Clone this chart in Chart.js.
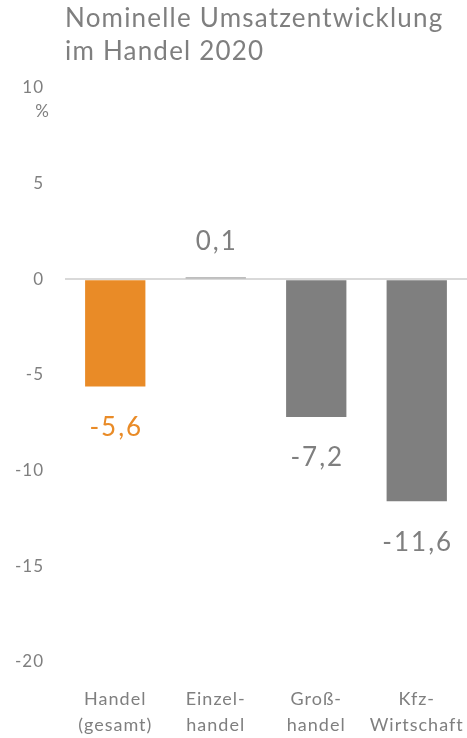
<!DOCTYPE html>
<html>
<head>
<meta charset="utf-8">
<script src="https://cdn.jsdelivr.net/npm/chart.js@4"></script>
<style>
  html, body { margin: 0; padding: 0; background: #fff; }
  #wrap { width: 467px; height: 738px; position: relative; }
</style>
</head>
<body>
<div id="wrap"><canvas id="chart"></canvas></div>
<script>
var titleLines = ['Nominelle Umsatzentwicklung', 'im Handel 2020'];
var categories = [['Handel', '(gesamt)'], ['Einzel-', 'handel'], ['Groß-', 'handel'], ['Kfz-', 'Wirtschaft']];
var values = [-5.6, 0.1, -7.2, -11.6];
var valueLabels = ['-5,6', '0,1', '-7,2', '-11,6'];
var unitLabel = '%';

var grey = '#7f7f7f';
var orange = '#e98b27';
var barColors = [orange, grey, grey, grey];

// title, unit and value labels drawn by hand
var extras = {
    id: 'extras',
    beforeDraw: function (chart) {
        // the reference text is set a little loose
        chart.ctx.letterSpacing = '1px';
    },
    afterDraw: function (chart) {
        var ctx = chart.ctx;
        var area = chart.chartArea;
        var y = chart.scales.y;
        ctx.save();
        ctx.fillStyle = grey;
        ctx.textAlign = 'left';
        ctx.textBaseline = 'alphabetic';
        ctx.letterSpacing = '1.2px';
        ctx.font = '26px Lato';
        titleLines.forEach(function (t, i) {
            ctx.fillText(t, area.left, 27 + i * 33);
        });

        ctx.letterSpacing = '0px';
        ctx.font = '17px Lato';
        ctx.textAlign = 'center';
        ctx.textBaseline = 'middle';
        ctx.fillText(unitLabel, 42, y.getPixelForValue(10) + 24);

        ctx.letterSpacing = '2px';
        ctx.font = '26px Lato';
        var meta = chart.getDatasetMeta(0);
        meta.data.forEach(function (bar, i) {
            ctx.fillStyle = barColors[i];
            var ly = values[i] < 0 ? bar.y + 41 : bar.y - 36;
            ctx.fillText(valueLabels[i], bar.x + 1, ly);
        });
        ctx.restore();
    }
};

new Chart(document.getElementById('chart'), {
    type: 'bar',
    data: {
        labels: categories,
        datasets: [{
            data: values,
            backgroundColor: barColors,
            categoryPercentage: 0.6,
            barPercentage: 1
        }]
    },
    options: {
        responsive: true,
        maintainAspectRatio: false,
        animation: false,
        layout: { padding: { top: 88, left: 0, right: 0, bottom: 0 } },
        plugins: {
            legend: { display: false },
            tooltip: { enabled: false }
        },
        scales: {
            x: {
                grid: { display: false },
                border: { display: false },
                ticks: {
                    color: grey,
                    font: { family: 'Lato', size: 18, lineHeight: 1.4 },
                    padding: 17,
                    maxRotation: 0,
                    autoSkip: false
                },
                afterFit: function (s) {
                    s.height = 76;
                    s.paddingLeft = 0;
                    s.paddingRight = 0;
                }
            },
            y: {
                min: -20,
                max: 10,
                border: { display: false },
                grid: {
                    drawTicks: false,
                    lineWidth: 2,
                    color: function (c) {
                        return c.tick && c.tick.value === 0 ? '#d9d9d9' : 'rgba(0,0,0,0)';
                    }
                },
                ticks: {
                    stepSize: 5,
                    color: grey,
                    font: { family: 'Lato', size: 17 },
                    padding: 21
                },
                afterFit: function (s) { s.width = 65; }
            }
        }
    },
    plugins: [extras]
});
</script>
</body>
</html>
